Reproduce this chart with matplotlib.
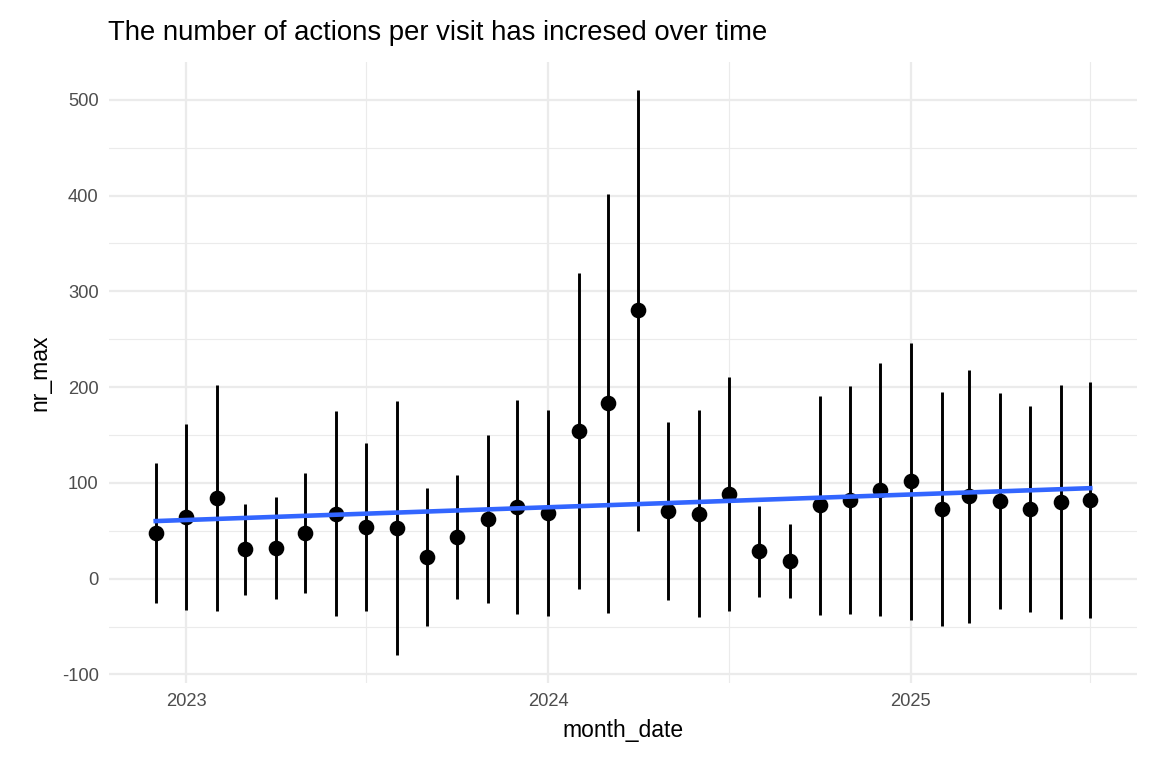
import numpy as np
import pandas as pd
import matplotlib
matplotlib.use("Agg")
import matplotlib.pyplot as plt
import matplotlib.dates as mdates

plt.rcParams['font.family'] = ['Liberation Sans', 'DejaVu Sans']
plt.rcParams['axes.unicode_minus'] = False

# monthly mean and sd of nr_max, Dec 2022 .. Jul 2025
month_date = pd.date_range("2022-12-01", "2025-07-01", freq="MS")
nr_mean = [47.5, 64.5, 84, 30.5, 32, 47.5, 68, 54, 53, 23, 43.5,
           62.5, 75, 69, 154, 183, 280, 71, 68, 88.5, 28.5, 18.5,
           76.5, 82, 93, 101.5, 73, 86, 81, 73, 80, 82]
nr_sd = [73, 97, 118, 47.5, 53, 63, 107, 87.5, 132.5, 72, 65,
         87.5, 112, 107.5, 165, 219, 230, 93, 108, 122, 47.5, 38.5,
         114, 119, 132, 145, 122, 132, 113, 107.5, 122.5, 123.5]

mean = np.array(nr_mean)
sd = np.array(nr_sd)
xnum = mdates.date2num(month_date)

fig = plt.figure(figsize=(7.68, 5.12), dpi=150)
ax = fig.add_axes([109/1152, 1-683/768, (1137-109)/1152, (683-62)/768])

# error bars + points
ax.vlines(xnum, mean - sd, mean + sd, color="black", linewidth=1.4, zorder=3)
ax.plot(xnum, mean, "o", color="black", markersize=6.5, zorder=4)

# linear fit (geom_smooth method = lm)
slope, intercept = np.polyfit(xnum, mean, 1)
xs = np.array([xnum[0], xnum[-1]])
ax.plot(xs, intercept + slope * xs, color="#3366FF", linewidth=2.2, zorder=5)

# grid ticks
ax.set_yticks(np.arange(-100, 501, 100))
ax.set_yticks(np.arange(-50, 551, 100), minor=True)
year_ticks = mdates.date2num(pd.to_datetime(["2023-01-01", "2024-01-01", "2025-01-01"]))
mid_ticks = mdates.date2num(pd.to_datetime(["2023-07-01", "2024-07-01", "2025-07-01"]))
ax.set_xticks(year_ticks)
ax.set_xticklabels(["2023", "2024", "2025"])
ax.set_xticks(mid_ticks, minor=True)

# limits with ggplot style 5% expansion
lo = (mean - sd).min()
hi = (mean + sd).max()
pad = (hi - lo) * 0.05
ax.set_ylim(lo - pad, hi + pad)
xpad = (xnum[-1] - xnum[0]) * 0.05
ax.set_xlim(xnum[0] - xpad, xnum[-1] + xpad)

ax.grid(which="major", color="#EBEBEB", linewidth=1.1, zorder=0)
ax.grid(which="minor", color="#EBEBEB", linewidth=0.55, zorder=0)
ax.set_axisbelow(True)

for s in ax.spines.values():
    s.set_visible(False)
ax.tick_params(which="both", length=0, labelsize=8.8, labelcolor="#4D4D4D")
ax.tick_params(axis="x", pad=5)
ax.tick_params(axis="y", pad=5)

ax.set_xlabel("month_date", fontsize=11, labelpad=4)
ax.set_ylabel("nr_max", fontsize=11, labelpad=5)
fig.text(108/1152, 1-40/768, "The number of actions per visit has incresed over time",
         fontsize=13.2, color="black", ha="left", va="baseline")

fig.savefig("out.png", dpi=150)
